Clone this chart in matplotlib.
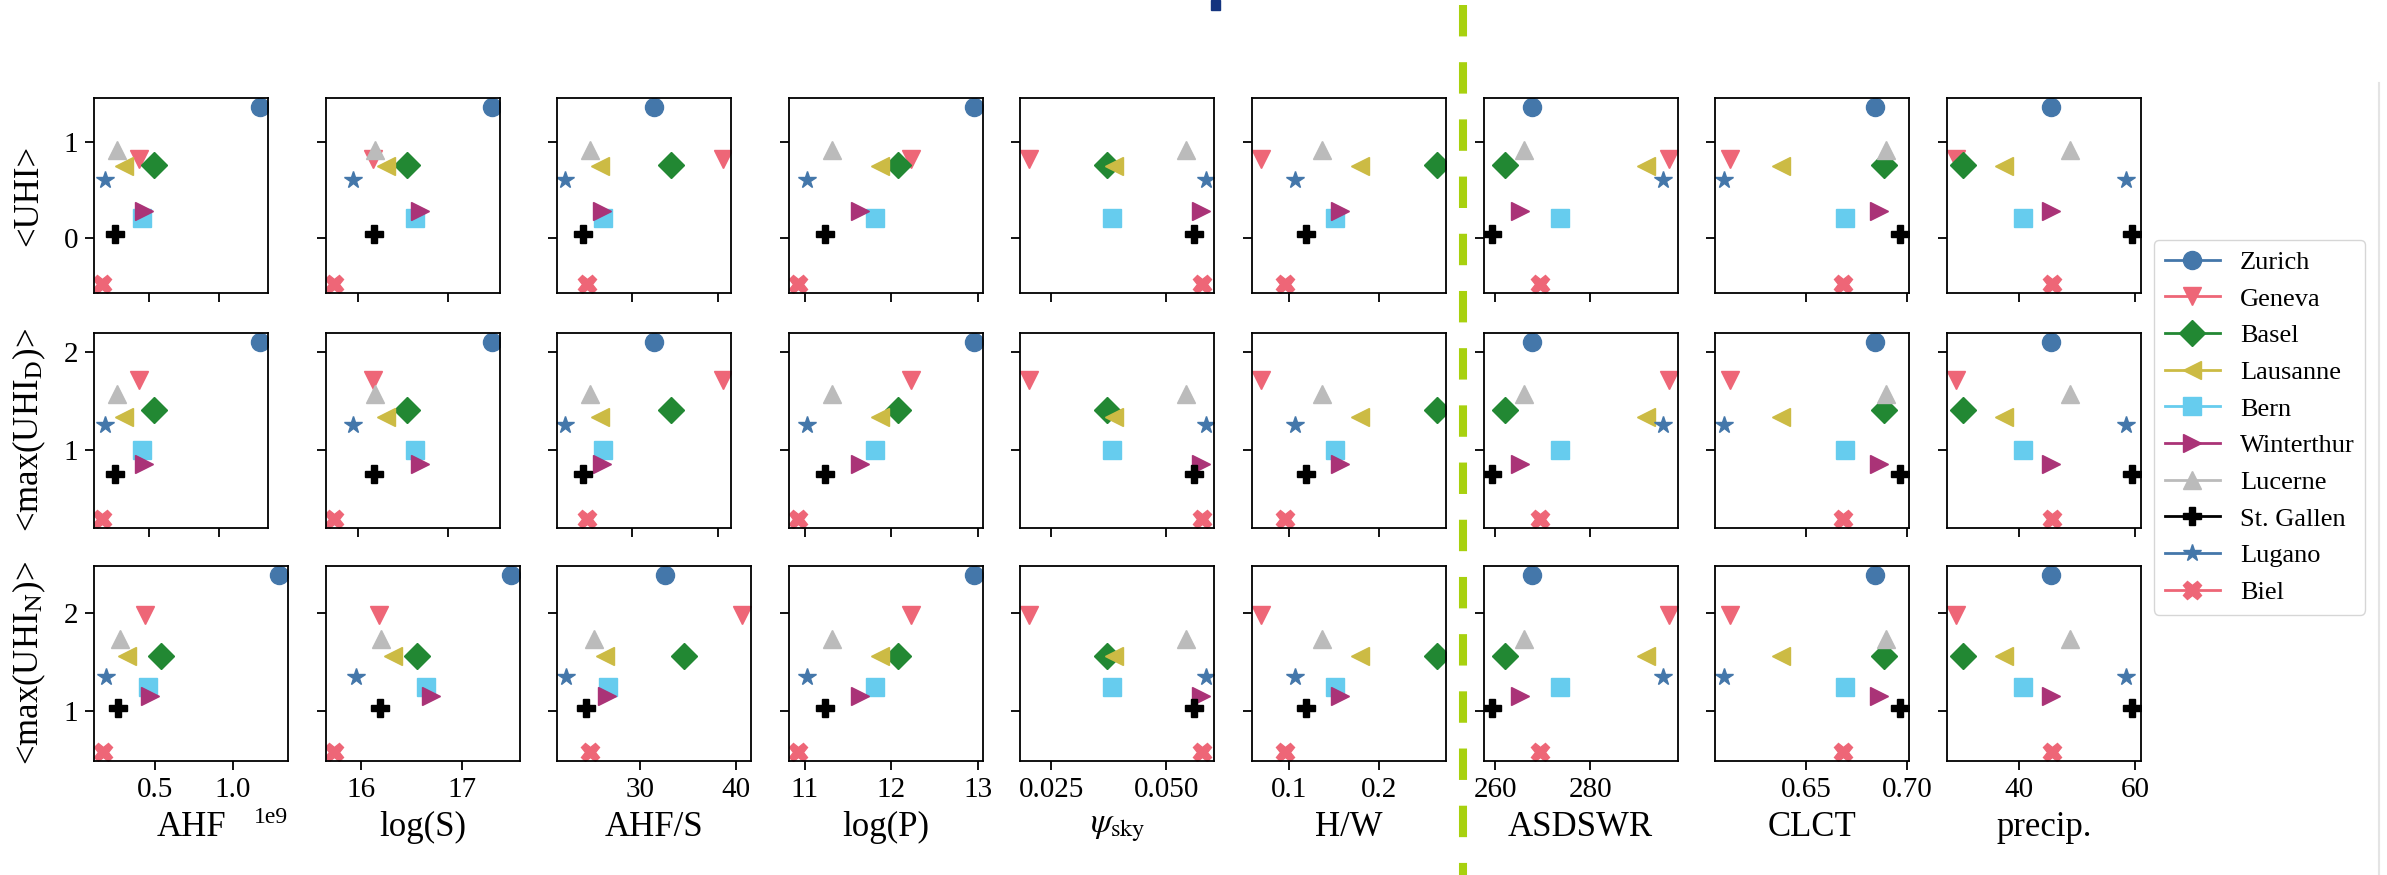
import numpy as np
import matplotlib.pyplot as plt
from matplotlib.lines import Line2D
from matplotlib.patches import Rectangle
from matplotlib.ticker import MultipleLocator

plt.rcParams['font.family'] = ['Liberation Serif', 'DejaVu Serif']
plt.rcParams['mathtext.fontset'] = 'stix'

nan = np.nan

# cities, in legend order
cities = ['Zurich', 'Geneva', 'Basel', 'Lausanne', 'Bern', 'Winterthur',
          'Lucerne', 'St. Gallen', 'Lugano', 'Biel']
markers = ['o', 'v', 'D', '<', 's', '>', '^', 'P', '*', 'X']
colors = ['#4477AA', '#EE6677', '#228833', '#CCBB44', '#66CCEE', '#AA3377',
          '#BBBBBB', '#000000', '#4477AA', '#EE6677']

# predictors (x), one value per city
ahf = [1.295e9, 0.435e9, 0.537e9, 0.324e9, 0.455e9, 0.470e9, 0.275e9, 0.262e9, 0.190e9, 0.167e9]
log_s = [17.49, 16.17, 16.55, 16.31, 16.64, 16.69, 16.19, 16.18, 15.95, 15.73]
ahf_s = [32.6, 40.64, 34.55, 26.26, 26.63, 26.5, 25.14, 24.33, 22.24, 24.76]
log_p = [12.95, 12.22, 12.07, 11.87, 11.81, 11.64, 11.32, 11.24, 11.03, 10.92]
psi_sky = [nan, 0.0202, 0.0371, 0.0387, 0.0382, 0.0576, 0.0543, 0.0559, 0.0585, 0.0578]
h_w = [nan, 0.0685, 0.265, 0.179, 0.151, 0.157, 0.137, 0.1185, 0.107, 0.0955]
asdswr = [267.8, 296.6, 262.0, 291.8, 273.7, 265.3, 266.0, 259.4, 295.3, 269.4]
clct = [0.6841, 0.6126, 0.6886, 0.6379, 0.6692, 0.686, 0.6896, 0.6965, 0.6097, 0.6683]
precip = [45.5, 29.0, 30.3, 37.4, 40.7, 45.5, 48.7, 59.4, 58.3, 45.6]

# responses (y)
uhi = [1.365, 0.82, 0.76, 0.75, 0.21, 0.28, 0.92, 0.04, 0.60, -0.48]
uhi_d = [2.10, 1.71, 1.41, 1.34, 1.00, 0.86, 1.57, 0.76, 1.26, 0.30]
uhi_n = [2.39, 1.98, 1.56, 1.56, 1.24, 1.15, 1.74, 1.03, 1.35, 0.58]

x_vars = [ahf, log_s, ahf_s, log_p, psi_sky, h_w, asdswr, clct, precip]
x_labels = ['AHF', 'log(S)', 'AHF/S', 'log(P)', r'$\psi_\mathrm{sky}$', 'H/W',
            'ASDSWR', 'CLCT', 'precip.']
x_steps = [0.5e9, 1, 10, 1, 0.025, 0.1, 20, 0.05, 20]
y_vars = [uhi, uhi_d, uhi_n]
y_labels = ['<UHI>', r'<max(UHI$_\mathrm{D}$)>', r'<max(UHI$_\mathrm{N}$)>']

W, H = 2387, 875
fig = plt.figure(figsize=(W / 100, H / 100), dpi=100)

# layout in pixels
col_left = [94 + 231.6 * i for i in range(9)]
row_top = [98, 333, 566]
ax_h = 195

for r, yv in enumerate(y_vars):
    first = None
    for c, xv in enumerate(x_vars):
        w = 174 if (r < 2 and c < 3) else 194
        rect = [col_left[c] / W, 1 - (row_top[r] + ax_h) / H, w / W, ax_h / H]
        ax = fig.add_axes(rect, sharey=first)
        if first is None:
            first = ax
        for i in range(len(cities)):
            ax.plot(xv[i], yv[i], marker=markers[i], color=colors[i], ms=13, ls='none')
        ax.xaxis.set_major_locator(MultipleLocator(x_steps[c]))
        ax.yaxis.set_major_locator(MultipleLocator(1))
        ax.tick_params(direction='out', length=6.5, width=1.3, labelsize=21, pad=5)
        for s in ax.spines.values():
            s.set_linewidth(1.3)
        ax.xaxis.get_offset_text().set_fontsize(17)
        if c > 0:
            ax.tick_params(labelleft=False)
        if r < 2:
            ax.tick_params(labelbottom=False)
            ax.xaxis.get_offset_text().set_visible(False)
        else:
            ax.set_xlabel(x_labels[c], fontsize=25, labelpad=6)

for r, lab in enumerate(y_labels):
    fig.text(29 / W, 1 - (row_top[r] + ax_h / 2) / H, lab, rotation=90,
             ha='center', va='center', fontsize=25)

handles = [Line2D([], [], color=colors[i], marker=markers[i], ms=13, lw=2)
           for i in range(len(cities))]
fig.legend(handles, cities, loc='upper left', bbox_to_anchor=(2154 / W, 1 - 240 / H),
           borderaxespad=0, fontsize=19, labelspacing=0.5, handlelength=2.1,
           handletextpad=0.75, borderpad=0.4)

# dashed separator between urban and climate predictors
fig.add_artist(Line2D([1463 / W, 1463 / W], [1 - 5 / H, 0], transform=fig.transFigure,
                      color='#a8d10f', lw=5.8, ls=(0, (3.9, 3.2))))
# small marks from the original page
fig.add_artist(Rectangle((1211 / W, 1 - 10 / H), 9 / W, 10 / H, transform=fig.transFigure,
                         color='#14347f'))
fig.add_artist(Line2D([2379 / W, 2379 / W], [1 - 83 / H, 0], transform=fig.transFigure,
                      color='#e4e4e4', lw=1.5))

plt.savefig('out.png', dpi=100)
